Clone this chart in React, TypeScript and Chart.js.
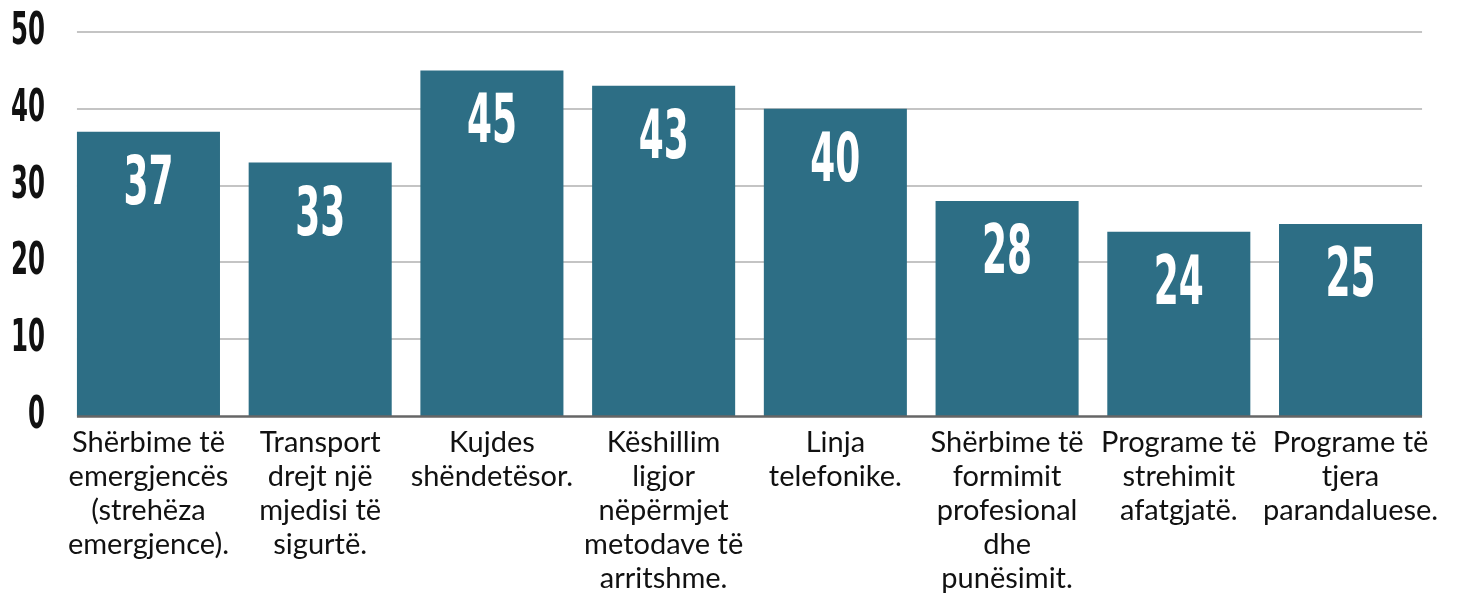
import React, { useEffect, useRef } from "react";
import { Chart, registerables } from "chart.js";

Chart.register(...registerables);

const categories: string[][] = [
  ["Shërbime të", "emergjencës", "(strehëza", "emergjence)."],
  ["Transport", "drejt një", "mjedisi të", "sigurtë."],
  ["Kujdes", "shëndetësor."],
  ["Këshillim", "ligjor", "nëpërmjet", "metodave të", "arritshme."],
  ["Linja", "telefonike."],
  ["Shërbime të", "formimit", "profesional", "dhe", "punësimit."],
  ["Programe të", "strehimit", "afatgjatë."],
  ["Programe të", "tjera", "parandaluese."],
];

const values: number[] = [37, 33, 45, 43, 40, 28, 24, 25];

const yTicks: number[] = [0, 10, 20, 30, 40, 50];

const BAR_COLOR = "#2d6e85";
const BOLD_FONT = "'DejaVu Sans', sans-serif";

function drawCondensed(ctx: any, text: string, x: number, y: number, size: number, perChar: number, align: "center" | "right") {
  ctx.save();
  ctx.font = `bold ${size}px ${BOLD_FONT}`;
  const w = ctx.measureText(text).width;
  const target = perChar * text.length;
  const s = target / w;
  ctx.translate(x, y);
  ctx.scale(s, 1);
  ctx.textAlign = align;
  ctx.textBaseline = "alphabetic";
  ctx.fillText(text, 0, 0);
  ctx.restore();
}

const customPlugin = {
  id: "customDraw",
  beforeDatasetsDraw(chart: any) {
    const ctx = chart.ctx;
    const meta = chart.getDatasetMeta(0);
    const first = meta.data[0];
    const last = meta.data[meta.data.length - 1];
    const left = first.x - first.width / 2;
    const right = last.x + last.width / 2;
    const yScale = chart.scales.y;
    ctx.save();
    ctx.strokeStyle = "#c4c4c4";
    ctx.lineWidth = 2;
    yTicks.forEach((v) => {
      if (v === 0) return;
      const y = Math.round(yScale.getPixelForValue(v));
      ctx.beginPath();
      ctx.moveTo(left, y);
      ctx.lineTo(right, y);
      ctx.stroke();
    });
    ctx.restore();
  },
  afterDatasetsDraw(chart: any) {
    const ctx = chart.ctx;
    const meta = chart.getDatasetMeta(0);
    const first = meta.data[0];
    const last = meta.data[meta.data.length - 1];
    const left = first.x - first.width / 2;
    const right = last.x + last.width / 2;
    const yScale = chart.scales.y;

    // axis line
    ctx.save();
    ctx.strokeStyle = "#666666";
    ctx.lineWidth = 2.5;
    const y0 = yScale.getPixelForValue(0) + 0.5;
    ctx.beginPath();
    ctx.moveTo(left, y0);
    ctx.lineTo(right, y0);
    ctx.stroke();
    ctx.restore();

    // y tick labels
    ctx.save();
    ctx.fillStyle = "#111111";
    yTicks.forEach((v) => {
      const y = yScale.getPixelForValue(v);
      drawCondensed(ctx, String(v), 45, y + 12, 44, 17, "right");
    });
    ctx.restore();

    // value labels
    ctx.save();
    ctx.fillStyle = "#ffffff";
    meta.data.forEach((bar: any, i: number) => {
      drawCondensed(ctx, String(values[i]), bar.x, bar.y + 72, 68, 25, "center");
    });
    ctx.restore();
  },
};

export default function App() {
  const canvasRef = useRef<HTMLCanvasElement | null>(null);

  useEffect(() => {
    document.body.style.margin = "0";
    const canvas = canvasRef.current;
    if (!canvas) return;
    const chart = new Chart(canvas, {
      type: "bar",
      data: {
        labels: categories,
        datasets: [
          {
            data: values,
            backgroundColor: BAR_COLOR,
            borderWidth: 0,
            categoryPercentage: 0.833,
            barPercentage: 1.0,
          },
        ],
      },
      options: {
        animation: false,
        responsive: false,
        maintainAspectRatio: false,
        layout: { padding: { top: 32, right: 29.6, left: 0, bottom: -12 } },
        plugins: {
          legend: { display: false },
          tooltip: { enabled: false },
        },
        scales: {
          x: {
            grid: { display: false, drawTicks: false },
            border: { display: false },
            ticks: {
              color: "#111111",
              autoSkip: false,
              maxRotation: 0,
              minRotation: 0,
              padding: 10,
              font: { family: "'Lato', 'Open Sans', sans-serif", size: 29, lineHeight: 34 / 29 },
            },
          },
          y: {
            min: 0,
            max: 50,
            afterFit(scale: any) {
              scale.width = 62.6;
            },
            grid: { display: false },
            border: { display: false },
            ticks: {
              stepSize: 10,
              display: false,
            },
          },
        },
      },
      plugins: [customPlugin],
    });
    return () => chart.destroy();
  }, []);

  return (
    <div style={{ width: 1466, height: 594 }}>
      <canvas ref={canvasRef} width={1466} height={594} style={{ display: "block" }} />
    </div>
  );
}
